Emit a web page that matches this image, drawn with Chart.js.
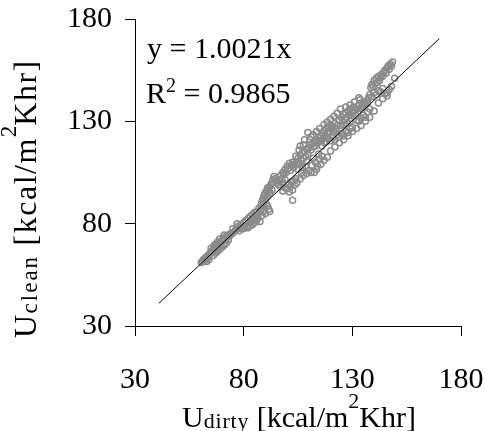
<!DOCTYPE html>
<html>
<head>
<meta charset="utf-8">
<script src="https://cdn.jsdelivr.net/npm/chart.js@4.4.1/dist/chart.umd.min.js"></script>
<style>
  html, body { margin: 0; padding: 0; background: #fff; }
  canvas { display: block; }
</style>
</head>
<body>
<canvas id="c" width="485" height="431"></canvas>
<script>
// ---- data ----
const dirty = [
  60.5,61,61.5,62,62.5,63,63.5,64,64.5,65,65.5,66,66.5,67,67.5,68,68.5,69,69.5,70,
  70.5,71,71.5,72,72.5,73,73.5,74,75,76,64,66,68,70,72,63,67,69,71,73,
  65,67,69,71,66.5,68,
  76.5,77,78,78.5,79,80,80.5,81,81.5,82,82.5,83,83.5,84,84.5,85,85.5,86,86.5,87,
  87.5,86,85,84,83,82,80,78,85,86.5,75,77,
  88,88.5,89,89.5,90,90.5,91,91.5,92,92.5,93,93.5,94,94.5,95,95.5,90,91,92,93,
  89,88,89.5,90.5,91.5,92,90,88.5,89,91,
  96,96.5,97,97.5,98,98.5,99,99.5,100,100.5,101,101.5,102,102.5,103,103.5,97,98,99,100,
  100.5,101,101.5,102,102.5,103,103.5,104,99,98,102.5,
  104.5,105,105.5,106,106.5,107,107.5,108,108.5,109,109.5,110,110.5,111,111.5,112,112.5,113,113.5,114,
  114.5,115,115.5,116,106,109.5,108,111,107,108.5,110,111.5,112.5,113,114,115,116,105,106.5,109,
  112,114.5,
  104,105.5,107.5,110.5,112,113.5,115,104.5,106,107.5,109,111,113.5,115.5,
  116.5,117,117.5,118,118.5,119,119.5,120,120.5,121,121.5,122,122.5,123,116,117,118,119,120,121,
  122,123,124,125,126,127,128,129,130,124,125,125.5,126,126.5,127,127.5,128,128.5,129,129.5,
  130,130.5,131,124.5,126,127.5,129,
  117,118.5,120,121.5,123,124.5,127,129,117,118.5,120,122,124,126,128,130,
  131.5,132,132.5,133,133.5,134,134.5,135,135.5,136,136.5,137,137.5,138,138.5,139,139.5,140,140.5,141,
  141.5,142,142.5,143,143.5,144,144.5,145,145.5,146,146.5,147,147.5,148,148.5,139,140,141,142,143,
  144,145,146,147,148,149.5,133,134,135,136,137,138,132,
  131,133,132,134,136,138,140,142,144,146
];
const clean = [
  61,61.5,62.5,62,63.5,63,64.5,64,65.5,66,66.5,67.5,66.5,68,69,68.5,70,70.5,69.5,71.5,
  72.5,73,72,74,73.5,74,75,74.5,75.5,76.5,62.5,64.5,66.5,68.5,70.5,61.5,65.5,67.5,69.5,72,
  68,70,72.5,74.5,69.5,71,
  77,78.5,78,79.5,77.5,80.5,79,81.5,78.5,82.5,80.5,83.5,81,84.5,82,85.5,83,86,84,87.5,
  81,81.5,80.5,79.5,79,78,77.5,76.5,82.5,82.5,77.5,80,
  89,91,92.5,94,95,96,97.5,96.5,98,99,100,101.5,103,102,101,100,92,93.5,95,96.5,
  90,87,88,89.5,87,86,85,84,86,88.5,
  99,101,103.5,102,105,104,106.5,105,108,107,109.5,106,108.5,110,107.5,109,98,100,101.5,97,
  99,95.5,98,100.5,96.5,101,99,102,97.5,96,91.5,
  110,112,109,113.5,111,114.5,112,115,113,116.5,114,117,118.5,116,119,117.5,120,118,121,119.5,
  122,120.5,123,121,118,124.5,121,122.5,107.5,108,106,108.5,105,110,108,111.5,113,106.5,105,110.5,
  112,114,
  113,116,118.5,121,123.5,125,126.5,100,102,103.5,104.5,105,106.5,109,
  124,125.5,123,126.5,124.5,127,125,128,126,127.5,125,129,126.5,128,118,119.5,120,121.5,120.5,122,
  121,123.5,122.5,124,123,125,124.5,126.5,127,130.5,132,130,133.5,131,134,132,135,133,136,131.5,
  134.5,137,135,128,128.5,129,130,
  128.5,129.5,131,132.5,134,136,137,138,111,112.5,115.5,117.5,119.5,121,123,125,
  133,136,134,138,140.5,136.5,138,137,139,138,140,139,141.5,143,146.5,148,147,150,148.5,151,
  149,152,150,151.5,153,152,154,155,153.5,156,157,155.5,158,157,159,142,144,143,145,144.5,
  146,143.5,144,145.5,147,151,130,131.5,133,132,134.5,136,130.5,
  139.5,141.5,126.5,128,130,132,135,139,141,142.5
];
const trendX = [41, 170];
const trendY = [41.09, 170.36];
const tickValues = [30, 80, 130, 180];
const equationText = 'y = 1.0021x';
const r2Text = ' = 0.9865';

const SERIF = '"Liberation Serif", "Times New Roman", serif';
Chart.defaults.font.family = SERIF;
Chart.defaults.color = '#000';

const points = dirty.map((x, i) => ({ x: x, y: clean[i] }));
const trend = trendX.map((x, i) => ({ x: x, y: trendY[i] }));

function drawRich(ctx, parts, x, y) {
  let cx = x;
  for (const p of parts) {
    ctx.font = p.size + 'px ' + SERIF;
    ctx.letterSpacing = (p.ls || 0) + 'px';
    ctx.fillText(p.t, cx, y + (p.dy || 0));
    cx += ctx.measureText(p.t).width;
  }
  ctx.letterSpacing = '0px';
}

const textPlugin = {
  id: 'richText',
  afterDraw(chart) {
    const ctx = chart.ctx;
    ctx.save();
    ctx.fillStyle = '#000';
    ctx.textBaseline = 'alphabetic';
    ctx.textAlign = 'left';
    // equation
    drawRich(ctx, [{ t: equationText, size: 30 }], 147, 58);
    drawRich(ctx, [{ t: 'R', size: 30 }, { t: '2', size: 20, dy: -11 }, { t: r2Text, size: 30 }], 146, 103);
    // x axis title
    drawRich(ctx, [
      { t: 'U', size: 30 },
      { t: 'dirty', size: 22, dy: 1, ls: 0.8 },
      { t: ' [kcal/m', size: 30 },
      { t: '2', size: 22, dy: -19 },
      { t: 'Khr]', size: 30 }
    ], 182, 427);
    // y axis title (rotated)
    ctx.translate(36, 338);
    ctx.rotate(-Math.PI / 2);
    drawRich(ctx, [
      { t: 'U', size: 32, ls: 1.5 },
      { t: 'clean', size: 23, dy: 1, ls: 2 },
      { t: ' [kcal/m', size: 32, ls: 1.5 },
      { t: '2', size: 23, dy: -20 },
      { t: 'Khr]', size: 32, ls: 1.5 }
    ], 0, 0);
    ctx.restore();
  }
};

function zeroPad(s) {
  s.paddingLeft = 0; s.paddingRight = 0; s.paddingTop = 0; s.paddingBottom = 0;
}

function axis(extra) {
  return Object.assign({
    type: 'linear',
    min: 30,
    max: 180,
    afterBuildTicks(scale) { scale.ticks = tickValues.map(v => ({ value: v })); },
    grid: { display: true, drawOnChartArea: false, drawTicks: true, tickLength: 10, tickColor: '#000', tickWidth: 1 },
    border: { display: true, color: '#000', width: 1 },
  }, extra);
}

new Chart(document.getElementById('c'), {
  type: 'scatter',
  data: {
    datasets: [
      {
        label: 'trend',
        data: trend,
        showLine: true,
        borderColor: '#000',
        borderWidth: 1,
        pointRadius: 0,
        order: 0
      },
      {
        label: 'U',
        data: points,
        pointStyle: 'circle',
        pointRadius: 3,
        pointBorderWidth: 1.5,
        pointBorderColor: '#8a8a8a',
        pointBackgroundColor: 'rgba(255,255,255,0)',
        order: 1
      }
    ]
  },
  options: {
    responsive: false,
    animation: false,
    layout: { padding: { top: 19, right: 24, left: 0, bottom: 0 } },
    plugins: { legend: { display: false }, tooltip: { enabled: false } },
    scales: {
      x: axis({
        position: 'bottom',
        ticks: { font: { size: 30 }, color: '#000', padding: 26, maxRotation: 0 },
        afterFit(s) { s.height = 105; zeroPad(s); }
      }),
      y: axis({
        position: 'left',
        ticks: { font: { size: 30 }, color: '#000', padding: 13 },
        afterFit(s) { s.width = 135; zeroPad(s); }
      })
    }
  },
  plugins: [textPlugin]
});
</script>
</body>
</html>
